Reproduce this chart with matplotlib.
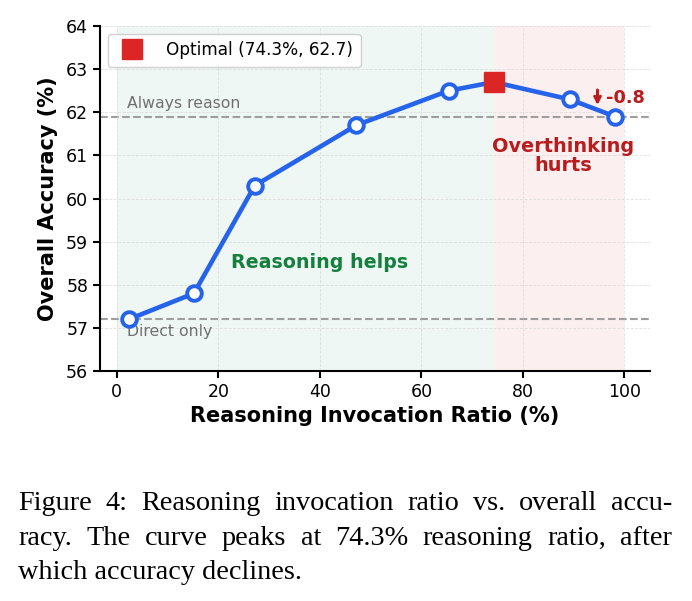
import numpy as np
import matplotlib.pyplot as plt

# data
ratio = [2.4, 15.2, 27.2, 47.2, 65.4, 89.2, 98.2]
accuracy = [57.2, 57.8, 60.3, 61.7, 62.5, 62.3, 61.9]
opt_ratio = 74.3
opt_acc = 62.7
always_reason = 61.9
direct_only = 57.2
x_ticks = [0, 20, 40, 60, 80, 100]
y_ticks = [56, 57, 58, 59, 60, 61, 62, 63, 64]

caption_lines = [
    "Figure 4: Reasoning invocation ratio vs. overall accu-",
    "racy.  The curve peaks at 74.3% reasoning ratio, after",
    "which accuracy declines.",
]

blue = '#2563eb'
red = '#dc2626'
dark_red = '#b91c1c'
green = '#15803d'

W, H = 692, 601
fig = plt.figure(figsize=(W / 100, H / 100), dpi=100)
ax = fig.add_axes([0.1445, 0.3827, 0.7945, 0.574])

# background regions
ax.axvspan(0, opt_ratio, color='#e8f5ee', alpha=0.7, zorder=0, lw=0)
ax.axvspan(opt_ratio, 100, color='#fbe9e9', alpha=0.7, zorder=0, lw=0)

ax.grid(True, ls='--', color='#d9d9d9', lw=0.6, alpha=0.8, zorder=0.5)

# reference lines
ax.axhline(always_reason, color='#9e9e9e', ls='--', lw=1.5, zorder=1)
ax.axhline(direct_only, color='#9e9e9e', ls='--', lw=1.5, zorder=1)
ax.text(2, always_reason + 0.12, 'Always reason', color='#707070', fontsize=11.3, va='bottom')
ax.text(2, direct_only - 0.12, 'Direct only', color='#707070', fontsize=11.3, va='top')

# main curve (through the optimum)
xs = ratio[:5] + [opt_ratio] + ratio[5:]
ys = accuracy[:5] + [opt_acc] + accuracy[5:]
ax.plot(xs, ys, color=blue, lw=3.3, zorder=3)
ax.plot(ratio, accuracy, 'o', ms=10.5, mfc='white', mec=blue, mew=2.8, zorder=4, ls='none')
ax.plot([opt_ratio], [opt_acc], 's', ms=14, color=red, zorder=5,
        label=f'Optimal ({opt_ratio}%, {opt_acc})', ls='none')

ax.text(40, 58.52, 'Reasoning helps', color=green, fontsize=13.7, fontweight='bold', ha='center', va='center')
ax.text(88, 60.98, 'Overthinking\nhurts', color=dark_red, fontsize=13.9, fontweight='bold',
        ha='center', va='center', linespacing=1.0)

ax.annotate('', xy=(94.7, 62.1), xytext=(94.7, 62.58),
            arrowprops=dict(arrowstyle='->', color=dark_red, lw=2.2))
ax.text(96.3, 62.32, '-0.8', color=dark_red, fontsize=12.8, fontweight='bold', va='center')

ax.set_xlim(-3.3, 105)
ax.set_ylim(56, 64)
ax.set_xticks(x_ticks)
ax.set_yticks(y_ticks)
ax.tick_params(labelsize=12.5, width=1.5, length=5)
ax.set_xlabel('Reasoning Invocation Ratio (%)', fontsize=15, fontweight='bold', labelpad=4)
ax.set_ylabel('Overall Accuracy (%)', fontsize=15, fontweight='bold', labelpad=6)
for s in ['top', 'right']:
    ax.spines[s].set_visible(False)
for s in ['left', 'bottom']:
    ax.spines[s].set_linewidth(1.5)

ax.legend(loc='upper left', fontsize=12.2, framealpha=0.9, borderpad=0.45, handletextpad=1.0,
          markerscale=1.0, borderaxespad=0.45)

# caption under the chart, justified like the paper
renderer = fig.canvas.get_renderer()
left_px, right_px = 18, 672
baselines = [510, 545, 579]
cap_kw = dict(fontsize=20.3, family='Liberation Serif', va='baseline', ha='left')
for i, line in enumerate(caption_lines):
    y = 1 - baselines[i] / H
    if i == len(caption_lines) - 1:
        fig.text(left_px / W, y, line, **cap_kw)
        continue
    words = line.split()
    texts = [fig.text(0, y, w, **cap_kw) for w in words]
    widths = [t.get_window_extent(renderer).width for t in texts]
    gap = (right_px - left_px - sum(widths)) / (len(words) - 1)
    x = left_px
    for t, w in zip(texts, widths):
        t.set_x(x / W)
        x += w + gap

fig.savefig('out.png', dpi=100)
